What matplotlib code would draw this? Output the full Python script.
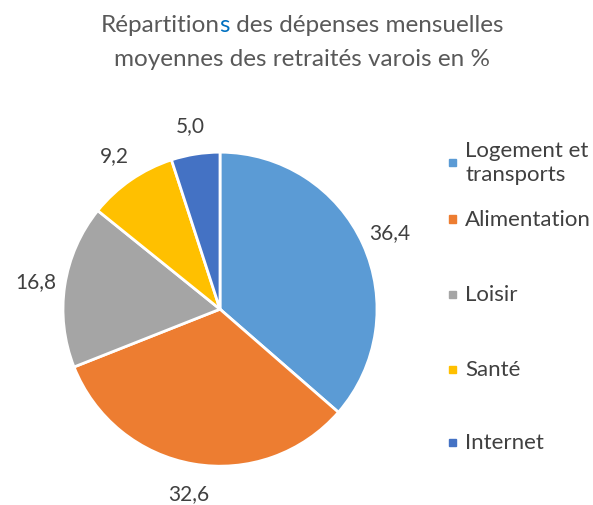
import matplotlib
matplotlib.use("Agg")
import matplotlib.pyplot as plt
from matplotlib.patches import Rectangle

categories = ["Logement et\ntransports", "Alimentation", "Loisir", "Santé", "Internet"]
values = [36.4, 32.6, 16.8, 9.2, 5.0]
colors = ["#5B9BD5", "#ED7D31", "#A5A5A5", "#FFC000", "#4472C4"]

plt.rcParams['font.family'] = ['Lato', 'DejaVu Sans']
txt = "#404040"

fig = plt.figure(figsize=(5.93, 5.06), dpi=100)
ax = fig.add_axes([0.371 - 0.265, 0.387 - 0.3103, 0.53, 0.6206])

wedges, texts, autotexts = ax.pie(
    values, colors=colors, startangle=90, counterclock=False,
    wedgeprops=dict(edgecolor="white", linewidth=2),
    autopct=lambda p: f"{p:.1f}".replace(".", ","), pctdistance=1.19)
for t in autotexts:
    t.set_fontsize(15)
    t.set_color(txt)
    t.set_clip_on(False)
ax.set_xlim(-1, 1)
ax.set_ylim(-1, 1)
ax.set_aspect("equal")

# legend
leg_y = [163, 220, 295, 370, 443]
for c, lab, y in zip(colors, categories, leg_y):
    fy = 1 - y / 506
    fig.patches.append(Rectangle((449 / 593, fy - 3.5 / 506), 7 / 593, 7 / 506,
                                 transform=fig.transFigure, color=c))
    fig.text(465 / 593, fy, lab, fontsize=16, color=txt, va="center", ha="left",
             linespacing=1.2)

# title with one blue letter
title_gray = "#595959"
fs = 17.5
lines = [[("Répartition", title_gray), ("s", "#0070C0"), (" des dépenses mensuelles", title_gray)],
         [("moyennes des retraités varois en %", title_gray)]]
base_y = [32, 66]
fig.canvas.draw()
r = fig.canvas.get_renderer()
for parts, by in zip(lines, base_y):
    objs = [fig.text(0, 1 - by / 506, s, color=c, fontsize=fs, va="baseline", ha="left")
            for s, c in parts]
    widths = [o.get_window_extent(r).width for o in objs]
    x = 302 - sum(widths) / 2
    for o, w in zip(objs, widths):
        o.set_x(x / 593)
        x += w

fig.savefig("out.png", dpi=100)
